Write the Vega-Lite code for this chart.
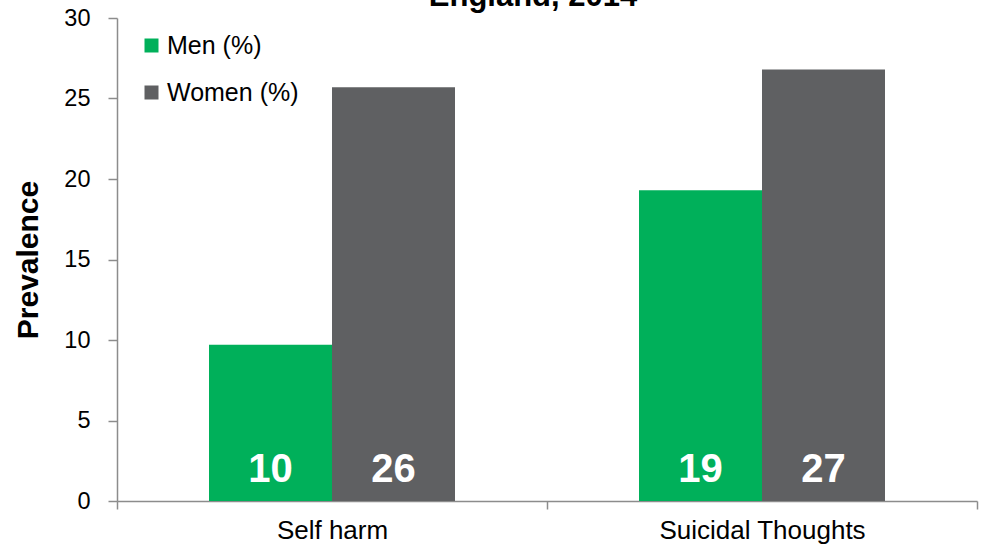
{
  "$schema": "https://vega.github.io/schema/vega-lite/v6.json",
  "autosize": {"type": "none"},
  "width": 860,
  "height": 483,
  "padding": {"left": 117, "top": 18, "right": 10, "bottom": 49},
  "background": "white",
  "title": {
    "text": "England, 2014",
    "font": "Liberation Sans",
    "fontSize": 31,
    "fontWeight": "bold",
    "color": "#000000",
    "anchor": "middle",
    "baseline": "alphabetic",
    "offset": -31,
    "dx": -14
  },
  "config": {
    "view": {"stroke": null},
    "font": "Liberation Sans",
    "axis": {"grid": false, "domainColor": "#8c8c8c", "tickColor": "#8c8c8c", "labelColor": "#000000", "titleColor": "#000000", "labelFont": "Liberation Sans", "titleFont": "Liberation Sans"}
  },
  "data": {
    "values": [
      {"category": "Self harm", "sex": "Men (%)", "value": 9.7},
      {"category": "Self harm", "sex": "Women (%)", "value": 25.7},
      {"category": "Suicidal Thoughts", "sex": "Men (%)", "value": 19.3},
      {"category": "Suicidal Thoughts", "sex": "Women (%)", "value": 26.8}
    ]
  },
  "encoding": {
    "x": {
      "field": "category",
      "type": "nominal",
      "sort": null,
      "scale": {"paddingInner": 0, "paddingOuter": 0},
      "axis": {
        "title": null,
        "labelAngle": 0,
        "labelFontSize": 26,
        "labelLimit": 400,
        "tickBand": "extent",
        "tickSize": 8,
        "labelPadding": 8,
        "domainWidth": 1.5,
        "tickWidth": 1.5
      }
    },
    "xOffset": {
      "field": "sex",
      "type": "nominal",
      "sort": null,
      "scale": {"paddingInner": 0, "paddingOuter": 0.748}
    }
  },
  "layer": [
    {
      "mark": {"type": "bar"},
      "encoding": {
        "y": {
          "field": "value",
          "type": "quantitative",
          "scale": {"domain": [0, 30], "nice": false},
          "axis": {
            "title": "Prevalence",
            "titleFontSize": 30,
            "titleFontWeight": "bold",
            "titlePadding": 20,
            "values": [0, 5, 10, 15, 20, 25, 30],
            "labelFontSize": 23.5,
            "labelPadding": 18,
            "tickSize": 9,
            "domainWidth": 1.5,
            "tickWidth": 1.5
          }
        },
        "color": {
          "field": "sex",
          "type": "nominal",
          "sort": null,
          "scale": {"domain": ["Men (%)", "Women (%)"], "range": ["#00b05a", "#5f6062"]},
          "legend": {
            "title": null,
            "orient": "none",
            "legendX": 22,
            "legendY": 15,
            "symbolType": "square",
            "symbolSize": 196,
            "symbolStrokeWidth": 0,
            "labelFontSize": 25,
            "labelFont": "Liberation Sans",
            "labelColor": "#000000",
            "labelOffset": 3,
            "rowPadding": 21
          }
        }
      }
    },
    {
      "mark": {"type": "text", "color": "white", "fontSize": 40, "fontWeight": "bold", "font": "Liberation Sans", "baseline": "alphabetic", "dy": -19},
      "encoding": {
        "y": {"datum": 0, "type": "quantitative"},
        "text": {"field": "value", "type": "quantitative", "format": ".0f"}
      }
    }
  ]
}
